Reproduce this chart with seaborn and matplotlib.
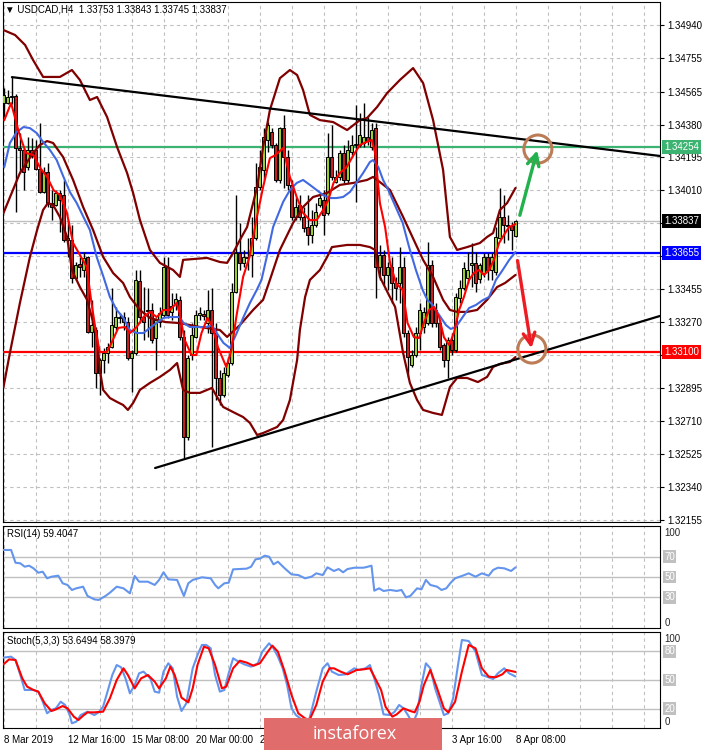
import numpy as np
import pandas as pd
import matplotlib
matplotlib.use("Agg")
import matplotlib.pyplot as plt
import seaborn as sns
from matplotlib.patches import Ellipse, Rectangle

# ---------------- data (USDCAD H4) ----------------
opens = [1.34501, 1.34501, 1.34535, 1.34541, 1.34248, 1.34237, 1.34141, 1.34237, 1.34237, 1.34130,
         1.34000, 1.34113, 1.33938, 1.33927, 1.33995, 1.33983, 1.33730, 1.33730, 1.33516, 1.33595,
         1.33561, 1.33635, 1.33212, 1.33223, 1.32981, 1.33054, 1.33094, 1.33127, 1.33240, 1.33291,
         1.33296, 1.33268, 1.33066, 1.33094, 1.33499, 1.33296, 1.33336, 1.33336, 1.33178, 1.33268,
         1.33308, 1.33578, 1.33325, 1.33370, 1.33393, 1.33184, 1.32621, 1.33082, 1.33184, 1.33308,
         1.33313, 1.33262, 1.33336, 1.33206, 1.32953, 1.32857, 1.32970, 1.33037, 1.33437, 1.33657,
         1.33601, 1.33635, 1.33646, 1.33741, 1.34028, 1.34124, 1.34293, 1.34338, 1.34265, 1.34068,
         1.34360, 1.34197, 1.34040, 1.33860, 1.33927, 1.33860, 1.33803, 1.33758, 1.33815, 1.33927,
         1.33955, 1.33882, 1.34197, 1.34056, 1.34085, 1.34220, 1.34068, 1.34225, 1.34265, 1.34265,
         1.34276, 1.34310, 1.34253, 1.34360, 1.33578, 1.33646, 1.33533, 1.33578, 1.33488, 1.33488,
         1.33578, 1.33206, 1.33026, 1.33082, 1.33206, 1.33240, 1.33262, 1.33589, 1.33336, 1.33262,
         1.33139, 1.33054, 1.33167, 1.33111, 1.33404, 1.33460, 1.33516, 1.33589, 1.33601, 1.33511,
         1.33544, 1.33635, 1.33561, 1.33550, 1.33741, 1.33860, 1.33815, 1.33809, 1.33753]
highs = [1.34586, 1.34574, 1.34648, 1.34552, 1.34333, 1.34248, 1.34310, 1.34304, 1.34293, 1.34389,
         1.34141, 1.34163, 1.34012, 1.34012, 1.34012, 1.34068, 1.33843, 1.33815, 1.33606, 1.33635,
         1.33663, 1.33640, 1.33393, 1.33240, 1.33066, 1.33122, 1.33150, 1.33460, 1.33353, 1.33319,
         1.33325, 1.33296, 1.33111, 1.33561, 1.33561, 1.33465, 1.33460, 1.33375, 1.33291, 1.33353,
         1.33635, 1.33635, 1.33432, 1.33432, 1.33415, 1.33223, 1.33082, 1.33262, 1.33336, 1.33353,
         1.33336, 1.33449, 1.33460, 1.33262, 1.32998, 1.33015, 1.33071, 1.33488, 1.33983, 1.33826,
         1.33674, 1.33741, 1.33860, 1.34163, 1.34237, 1.34360, 1.34394, 1.34360, 1.34276, 1.34366,
         1.34434, 1.34237, 1.34068, 1.33972, 1.33983, 1.33916, 1.33983, 1.33899, 1.33938, 1.33983,
         1.34012, 1.34333, 1.34377, 1.34124, 1.34237, 1.34265, 1.34293, 1.34321, 1.34490, 1.34445,
         1.34501, 1.34422, 1.34389, 1.34389, 1.33702, 1.33674, 1.33606, 1.33635, 1.33522, 1.33690,
         1.33635, 1.33223, 1.33111, 1.33240, 1.33375, 1.33353, 1.33718, 1.33618, 1.33375, 1.33279,
         1.33150, 1.33184, 1.33206, 1.33432, 1.33505, 1.33606, 1.33663, 1.33713, 1.33663, 1.33601,
         1.33657, 1.33657, 1.33657, 1.33803, 1.34023, 1.33983, 1.33871, 1.33832, 1.33843]
lows = [1.34422, 1.34496, 1.34496, 1.33888, 1.34107, 1.34012, 1.34124, 1.34191, 1.34124, 1.33995,
        1.33995, 1.33916, 1.33843, 1.33921, 1.33775, 1.33718, 1.33635, 1.33488, 1.33505, 1.33522,
        1.33522, 1.33206, 1.33127, 1.32897, 1.32857, 1.32981, 1.33037, 1.33122, 1.33223, 1.33262,
        1.33223, 1.33054, 1.32874, 1.33082, 1.33262, 1.33167, 1.33184, 1.33150, 1.32998, 1.33240,
        1.33296, 1.33291, 1.33279, 1.33336, 1.33167, 1.32503, 1.32604, 1.33054, 1.33178, 1.33279,
        1.33279, 1.33206, 1.32564, 1.32829, 1.32801, 1.32846, 1.32959, 1.33026, 1.33432, 1.33561,
        1.33578, 1.33561, 1.33522, 1.33730, 1.34012, 1.34068, 1.34225, 1.34248, 1.34056, 1.34051,
        1.34023, 1.34012, 1.33843, 1.33843, 1.33843, 1.33775, 1.33702, 1.33713, 1.33803, 1.33916,
        1.33758, 1.33871, 1.34068, 1.34051, 1.34068, 1.34051, 1.34051, 1.34208, 1.33944, 1.34253,
        1.34253, 1.34265, 1.34237, 1.33404, 1.33505, 1.33477, 1.33449, 1.33375, 1.33393, 1.33375,
        1.33184, 1.32959, 1.33015, 1.33071, 1.33111, 1.33206, 1.33251, 1.33240, 1.33240, 1.33111,
        1.33015, 1.32953, 1.33082, 1.33099, 1.33375, 1.33449, 1.33488, 1.33465, 1.33437, 1.33488,
        1.33522, 1.33505, 1.33505, 1.33533, 1.33730, 1.33713, 1.33730, 1.33674, 1.33745]
closes = [1.34546, 1.34535, 1.34541, 1.34248, 1.34237, 1.34113, 1.34237, 1.34203, 1.34130, 1.34000,
          1.34113, 1.33938, 1.33916, 1.33995, 1.33955, 1.33730, 1.33741, 1.33516, 1.33589, 1.33578,
          1.33629, 1.33212, 1.33251, 1.32981, 1.33054, 1.33094, 1.33127, 1.33251, 1.33296, 1.33296,
          1.33268, 1.33066, 1.33094, 1.33505, 1.33296, 1.33268, 1.33330, 1.33167, 1.33279, 1.33319,
          1.33578, 1.33308, 1.33359, 1.33398, 1.33184, 1.32621, 1.33066, 1.33195, 1.33308, 1.33319,
          1.33302, 1.33336, 1.33206, 1.32953, 1.32857, 1.32981, 1.33037, 1.33437, 1.33657, 1.33601,
          1.33635, 1.33629, 1.33741, 1.34028, 1.34141, 1.34310, 1.34377, 1.34265, 1.34068, 1.34360,
          1.34197, 1.34040, 1.33860, 1.33916, 1.33860, 1.33797, 1.33758, 1.33815, 1.33888, 1.33966,
          1.33871, 1.34197, 1.34085, 1.34085, 1.34220, 1.34068, 1.34237, 1.34265, 1.34270, 1.34321,
          1.34310, 1.34287, 1.34349, 1.33578, 1.33646, 1.33533, 1.33578, 1.33488, 1.33460, 1.33578,
          1.33206, 1.33071, 1.33082, 1.33206, 1.33336, 1.33325, 1.33589, 1.33262, 1.33262, 1.33127,
          1.33054, 1.33167, 1.33111, 1.33409, 1.33460, 1.33573, 1.33561, 1.33601, 1.33488, 1.33589,
          1.33635, 1.33561, 1.33635, 1.33747, 1.33860, 1.33815, 1.33809, 1.33786, 1.33837]

# Bollinger bands (upper / middle / lower)
bb_up_x = [0, 2.9, 5.4, 7.4, 9.9, 14.1, 17.1, 19.1, 21.6, 23.4, 25.9, 28.4, 30.9, 32.4, 34.1, 36.6, 39.1,
           42.4, 44.1, 44.9, 50.9, 54.1, 55.9, 57.4, 59.1, 60.9, 63.4, 64.9, 66.6, 69.1, 71.6, 73.4, 74.9,
           76.6, 79.1, 82.4, 85.9, 89.1, 90.9, 93.4, 95.9, 99.1, 102.4, 104.9, 107.4, 109.9, 111.6, 113.4,
           115.9, 119.1, 120.9, 122.4, 124.1, 125.9, 128]
bb_up_y = [1.34912, 1.34884, 1.34828, 1.34743, 1.34648, 1.34648, 1.34687, 1.34631, 1.34518, 1.34535,
           1.34422, 1.34253, 1.34107, 1.33995, 1.33843, 1.33674, 1.33601, 1.33561, 1.33522, 1.33618,
           1.33629, 1.33606, 1.33601, 1.33657, 1.33730, 1.33803, 1.34028, 1.34253, 1.34462, 1.34641,
           1.34687, 1.34659, 1.34574, 1.34434, 1.34405, 1.34394, 1.34349, 1.34405, 1.34417, 1.34479,
           1.34557, 1.34631, 1.34698, 1.34614, 1.34405, 1.34124, 1.33747, 1.33674, 1.33690, 1.33713,
           1.33747, 1.33769, 1.33899, 1.33938, 1.34023]
bb_mid_x = [0, 4.1, 7.4, 9.1, 10.9, 12.4, 14.9, 17.4, 19.9, 22.4, 24.9, 27.4, 29.9, 31.6, 34.1, 36.6,
            40.4, 44.1, 49.1, 54.1, 55.9, 59.1, 62.4, 64.9, 66.6, 69.1, 72.4, 74.9, 77.4, 80.9, 84.1,
            87.4, 90.9, 92.4, 94.1, 96.6, 99.9, 103.4, 104.9, 107.4, 109.9, 111.6, 113.4, 115.9, 118.4,
            120.9, 123.4, 125.4, 128]
bb_mid_y = [1.33882, 1.34107, 1.34220, 1.34265, 1.34287, 1.34276, 1.34197, 1.34068, 1.33916, 1.33786,
            1.33635, 1.33544, 1.33488, 1.33409, 1.33336, 1.33291, 1.33268, 1.33262, 1.33240, 1.33223,
            1.33184, 1.33251, 1.33336, 1.33393, 1.33505, 1.33674, 1.33826, 1.33916, 1.33972, 1.33995,
            1.34040, 1.34051, 1.34068, 1.34085, 1.34056, 1.34012, 1.33860, 1.33690, 1.33618, 1.33522,
            1.33393, 1.33336, 1.33325, 1.33325, 1.33336, 1.33393, 1.33465, 1.33488, 1.33533]
bb_low_x = [0, 1.6, 4.1, 6.6, 8.4, 9.9, 11.1, 12.4, 14.1, 15.9, 17.1, 19.1, 20.9, 23.4, 24.1, 24.9, 26.6,
            28.4, 29.9, 31.1, 32.4, 34.1, 36.6, 39.1, 41.6, 43.4, 44.9, 46.6, 49.1, 52.1, 53.4, 54.9,
            57.4, 59.9, 61.6, 63.4, 64.9, 68.4, 69.9, 71.6, 73.4, 74.1, 75.4, 76.6, 79.1, 80.9, 82.1,
            85.9, 89.1, 91.6, 92.9, 94.1, 96.6, 97.9, 99.9, 101.6, 103.4, 104.9, 107.4, 109.6, 111.6,
            113.4, 115.9, 118.6, 120.9, 122.4, 124.1, 126.6, 128]
bb_low_y = [1.32902, 1.33094, 1.33375, 1.33634, 1.33786, 1.33899, 1.33938, 1.33927, 1.33859, 1.33747,
            1.33561, 1.33465, 1.33393, 1.33184, 1.32998, 1.32886, 1.32840, 1.32818, 1.32801, 1.32773,
            1.32812, 1.32886, 1.32925, 1.32959, 1.32998, 1.33037, 1.32886, 1.32869, 1.32869, 1.32897,
            1.32846, 1.32790, 1.32761, 1.32733, 1.32700, 1.32632, 1.32643, 1.32677, 1.32716, 1.32829,
            1.33054, 1.33223, 1.33409, 1.33505, 1.33561, 1.33634, 1.33690, 1.33702, 1.33702, 1.33690,
            1.33674, 1.33522, 1.33409, 1.33353, 1.33094, 1.32925, 1.32829, 1.32773, 1.32756, 1.32745,
            1.32902, 1.32953, 1.32953, 1.32930, 1.32959, 1.33015, 1.33032, 1.33043, 1.33071]

# fast (red) and slow (blue) moving averages
ma_fast_x = [0.2, 1.9, 3.9, 5.6, 7.5, 9.2, 10.9, 12.5, 14.1, 15.8, 17.4, 19.1, 20.8, 22, 23.3, 24.1, 25.8,
             27, 28.7, 30.4, 31.6, 33.3, 35, 36.6, 38.3, 40, 41.6, 43.3, 44, 45.3, 47, 48.2, 49.5, 51,
             52.3, 53.6, 55.7, 57, 58.2, 59.9, 61.5, 63.2, 64.9, 66.6, 68, 69.9, 71.6, 73.3, 74.9, 76.6,
             78.3, 79.9, 81.2, 82.5, 84.1, 85.8, 87.5, 89.1, 90.8, 92.1, 92.9, 94.1, 95.4, 96.6, 98.1,
             99.8, 101, 102.6, 103.9, 105.1, 106.4, 107.6, 108.9, 110.1, 111.4, 112.6, 113.9, 115.1,
             116.4, 117.6, 118.9, 120.1, 121.4, 122.6, 123.9, 125.1, 126.4, 127.6, 128]
ma_fast_y = [1.34405, 1.34501, 1.34332, 1.34220, 1.34208, 1.34135, 1.34085, 1.34011, 1.33983, 1.33887,
             1.33713, 1.33646, 1.33578, 1.33375, 1.33183, 1.33099, 1.33099, 1.33150, 1.33235, 1.33240,
             1.33206, 1.33240, 1.33296, 1.33325, 1.33296, 1.33336, 1.33336, 1.33375, 1.33319, 1.33167,
             1.33082, 1.33082, 1.33206, 1.33291, 1.33240, 1.33127, 1.33015, 1.33111, 1.33296, 1.33522,
             1.33634, 1.33842, 1.34028, 1.34191, 1.34208, 1.34248, 1.34085, 1.33972, 1.33882, 1.33842,
             1.33842, 1.33899, 1.33955, 1.34051, 1.34107, 1.34141, 1.34208, 1.34265, 1.34282, 1.34293,
             1.34220, 1.33938, 1.33803, 1.33606, 1.33488, 1.33448, 1.33263, 1.33183, 1.33178, 1.33263,
             1.33336, 1.33353, 1.33296, 1.33183, 1.33139, 1.33206, 1.33336, 1.33409, 1.33505, 1.33544,
             1.33561, 1.33533, 1.33561, 1.33617, 1.33713, 1.33758, 1.33803, 1.33815, 1.33820]
ma_slow_x = [0.2, 1.6, 3.3, 5, 6.6, 8.3, 9.9, 11.6, 13.3, 15, 16.6, 18.3, 20, 21.6, 23.3, 25, 26.6, 28.3,
             30, 31.6, 33.3, 35, 36.6, 38.3, 40, 41.6, 44, 45, 46.6, 48.3, 50.8, 52.1, 53.3, 55, 56.6,
             58.3, 60, 61.6, 63.3, 64.5, 65.8, 67.4, 69.1, 69.9, 71.6, 73.3, 74.9, 76.6, 78.3, 79.9,
             81.6, 83.2, 84.9, 86.6, 88.2, 89.9, 91.6, 92.4, 93.7, 94.9, 96.2, 97.5, 99.8, 101.4, 103.1,
             104.8, 106, 107.3, 108.9, 110.6, 111.8, 113.1, 114.8, 116.4, 118.1, 119.8, 121.4, 123.1,
             124.8, 126.4, 128]
ma_slow_y = [1.34141, 1.34276, 1.34338, 1.34366, 1.34360, 1.34332, 1.34282, 1.34237, 1.34180, 1.34085,
             1.34000, 1.33938, 1.33859, 1.33786, 1.33634, 1.33522, 1.33409, 1.33336, 1.33291, 1.33222,
             1.33206, 1.33206, 1.33235, 1.33263, 1.33291, 1.33296, 1.33296, 1.33263, 1.33240, 1.33240,
             1.33240, 1.33251, 1.33206, 1.33150, 1.33122, 1.33206, 1.33296, 1.33375, 1.33448, 1.33505,
             1.33634, 1.33803, 1.33899, 1.33944, 1.34011, 1.34051, 1.34068, 1.34040, 1.34011, 1.33983,
             1.33966, 1.33966, 1.33972, 1.34000, 1.34051, 1.34107, 1.34169, 1.34180, 1.34141, 1.34068,
             1.34011, 1.33944, 1.33826, 1.33690, 1.33561, 1.33448, 1.33391, 1.33364, 1.33308, 1.33251,
             1.33229, 1.33240, 1.33296, 1.33347, 1.33364, 1.33391, 1.33409, 1.33505, 1.33561, 1.33617,
             1.33662]

# RSI(14)
rsi_x = [0, 1.9, 3.0, 4.2, 5.3, 6.4, 7.5, 8.7, 9.8, 10.9, 12.0, 13.7, 14.8, 16.0, 17.1, 18.2, 19.9, 21.0,
         22.7, 23.8, 25.5, 26.6, 28.3, 30.0, 31.6, 32.8, 33.9, 36.1, 37.8, 38.9, 40.0, 41.2, 43.4, 45.1,
         46.2, 47.3, 49.6, 51.8, 52.9, 53.7, 55.2, 56.3, 57.4, 60.8, 61.9, 63.0, 64.1, 65.3, 66.4, 67.5,
         68.6, 70.3, 72.0, 73.7, 75.4, 77.0, 78.2, 79.8, 81.0, 82.6, 83.8, 84.9, 86.0, 87.7, 90.0, 91.1,
         92.0, 92.7, 93.9, 95.0, 96.7, 98.3, 99.5, 100.6, 101.7, 103.4, 104.5, 105.6, 106.7, 108.4,
         109.5, 110.7, 111.8, 112.9, 114.6, 116.3, 118.0, 119.6, 121.3, 122.4, 123.6, 125.2, 126.9, 128]
rsi_v = [76.5, 76.5, 64.0, 63.4, 60.1, 61.1, 58.5, 54.2, 55.2, 48.7, 50.3, 51.3, 43.8, 42.2, 37.3, 38.9,
         40.5, 31.4, 28.1, 27.5, 31.4, 34.6, 40.5, 38.9, 34.0, 51.0, 45.4, 45.4, 42.2, 47.1, 54.6, 47.7,
         47.1, 31.4, 43.8, 47.1, 49.7, 48.7, 42.2, 38.9, 43.8, 44.4, 57.5, 58.2, 60.1, 67.3, 68.0, 70.9,
         69.9, 62.4, 65.0, 58.5, 52.6, 51.9, 48.7, 50.3, 53.6, 51.9, 59.5, 55.9, 57.8, 54.6, 57.8, 59.1,
         59.1, 60.1, 61.1, 36.6, 38.9, 36.3, 37.3, 36.3, 37.3, 30.1, 31.4, 38.9, 37.9, 47.1, 42.2, 40.5,
         37.3, 38.9, 44.4, 48.7, 51.0, 53.6, 50.3, 53.6, 51.3, 56.9, 59.1, 58.5, 55.9, 59.4]

# Stochastic(5,3,3): %K (blue) and %D (red)
stk_x = [0, 1.9, 3.0, 4.2, 5.3, 7.5, 8.7, 9.8, 10.9, 12.0, 13.1, 14.3, 15.4, 16.5, 17.1, 18.2, 19.3, 21.0,
         22.7, 23.8, 24.9, 26.0, 27.2, 28.3, 29.4, 30.5, 31.6, 32.8, 33.9, 35.0, 36.7, 37.8, 38.9, 40.0,
         41.2, 42.3, 43.4, 44.5, 45.7, 47.3, 48.5, 49.6, 50.7, 51.8, 52.9, 54.1, 55.2, 56.3, 57.4, 58.5,
         60.2, 61.9, 63.6, 64.7, 66.4, 67.5, 68.6, 69.8, 70.9, 72.0, 73.1, 74.2, 75.4, 76.5, 78.2, 79.8,
         81.0, 82.1, 83.8, 85.5, 87.7, 88.8, 90.5, 91.6, 92.7, 93.9, 95.0, 96.7, 97.8, 98.9, 100.0,
         101.1, 102.3, 103.4, 104.5, 105.6, 106.7, 107.9, 109.0, 110.1, 111.2, 112.4, 113.5, 114.6,
         116.3, 118.0, 119.6, 120.8, 122.4, 123.6, 125.2, 126.4, 128]
stk_v = [73.3, 74.3, 70.8, 55.2, 39.6, 39.6, 37.9, 27.4, 15.3, 18.8, 20.5, 27.4, 24.0, 14.2, 4.9, 6.6,
         13.5, 17.0, 13.5, 16.3, 22.2, 37.9, 55.2, 65.6, 63.2, 51.7, 36.1, 44.8, 57.0, 58.7, 51.7, 37.9,
         36.8, 58.7, 67.4, 62.2, 32.6, 17.7, 25.7, 62.2, 76.0, 86.5, 86.5, 83.0, 55.2, 37.9, 39.6, 57.0,
         72.6, 69.8, 66.3, 63.9, 67.4, 79.5, 88.2, 83.0, 74.3, 62.2, 44.8, 20.5, 13.5, 10.0, 6.6, 10.0,
         37.9, 62.2, 67.4, 58.7, 55.2, 55.9, 62.2, 60.4, 62.2, 65.6, 51.7, 34.4, 14.2, 13.5, 17.0, 24.0,
         20.5, 13.5, 4.9, 15.3, 44.8, 67.4, 62.2, 41.3, 27.4, 13.5, 15.3, 30.9, 62.2, 91.7, 90.6, 79.5,
         55.2, 53.5, 51.0, 57.0, 62.2, 57.0, 53.6]
std_x = [0, 1.4, 3.0, 4.7, 5.9, 7.5, 8.7, 10.3, 12.0, 13.1, 14.8, 16.0, 17.6, 18.7, 19.9, 21.0, 22.7, 24.9,
         26.6, 28.3, 30.0, 31.1, 32.8, 34.4, 36.1, 37.8, 38.9, 40.6, 41.7, 42.8, 44.5, 46.2, 47.3, 48.5,
         50.1, 51.3, 52.9, 54.6, 55.7, 57.4, 59.1, 60.8, 62.5, 64.1, 65.8, 67.2, 68.6, 70.3, 72.0, 73.7,
         75.4, 76.5, 78.2, 79.8, 81.5, 82.6, 84.3, 86.0, 88.3, 90.0, 91.6, 92.7, 94.4, 95.5, 97.2, 98.3,
         100.0, 101.7, 102.8, 104.0, 105.1, 106.7, 108.4, 110.1, 111.2, 112.9, 114.6, 116.3, 118.0,
         119.6, 121.3, 123.0, 124.7, 125.8, 128]
std_v = [66.3, 71.5, 70.8, 51.7, 43.1, 39.6, 37.9, 25.7, 17.7, 19.4, 22.9, 20.5, 11.8, 8.3, 12.8, 16.3,
         16.3, 17.0, 30.9, 50.0, 62.2, 55.2, 41.3, 51.7, 55.2, 48.3, 41.3, 51.7, 63.9, 55.2, 31.6, 26.7,
         41.3, 65.6, 84.7, 83.0, 65.6, 41.3, 43.1, 62.2, 70.1, 68.1, 64.9, 67.4, 77.8, 85.8, 79.5, 58.7,
         34.4, 15.3, 10.0, 8.3, 24.0, 48.3, 62.2, 62.2, 58.7, 55.9, 60.4, 61.1, 62.2, 53.5, 39.6, 22.2,
         11.8, 14.2, 20.5, 17.7, 16.3, 27.4, 44.8, 60.4, 41.3, 20.5, 16.3, 27.4, 58.7, 86.5, 83.0, 62.2,
         53.5, 52.8, 55.9, 60.4, 58.4]

# hand-drawn objects
trend_up_x = [2.1, 164.1]
trend_up_y = [1.34647, 1.34203]
trend_dn_x = [37.9, 164.1]
trend_dn_y = [1.32446, 1.33302]
level_prices = [1.34254, 1.33655, 1.33100]
level_colors = ['#3CB371', '#0000FF', '#FF0000']
bid_price = 1.33837
circle_x = [133.6, 132.1]
circle_y = [1.34242, 1.33116]
arrow_up = [(128.9, 1.33854), (133.6, 1.34250)]
arrow_dn = [(128.4, 1.33629), (132.1, 1.33105)]

price_ticks = [1.34940, 1.34755, 1.34565, 1.34380, 1.34195, 1.34010, 1.33825, 1.33640, 1.33455,
               1.33270, 1.33085, 1.32895, 1.32710, 1.32525, 1.32340, 1.32155]
# tick labels that sit under the coloured price boxes are not visible in the chart
hidden_price_ticks = [1.33825, 1.33640, 1.33085]
date_ticks = [0, 16, 32, 48, 64, 80, 96, 112, 128]
date_labels = ['8 Mar 2019', '12 Mar 16:00', '15 Mar 08:00', '20 Mar 00:00', '22 Mar 16:00',
               '', '', '3 Apr 16:00', '8 Apr 08:00']

# ---------------- drawing ----------------
sns.set_theme(style="white")
plt.rcParams['font.family'] = ['Liberation Sans', 'DejaVu Sans']

W, H = 704, 750
fig = plt.figure(figsize=(W / 100, H / 100), dpi=100)
fig.patch.set_facecolor('white')


def frac(x0, y0, x1, y1):
    return [x0 / W, 1 - y1 / H, (x1 - x0) / W, (y1 - y0) / H]


ax = fig.add_axes(frac(3, 2, 660, 522))
ax_r = fig.add_axes(frac(3, 526, 660, 628))
ax_s = fig.add_axes(frac(3, 632, 660, 728))

GRID = '#c0c0c0'
DASH = (0, (3, 3))
for a in (ax, ax_r, ax_s):
    a.set_xlim(-0.125, 164.125)
    a.set_facecolor('white')
    for s in a.spines.values():
        s.set_color('black')
        s.set_linewidth(0.8)
    a.set_xticks(date_ticks)
    a.set_xticks(np.arange(8, 164, 8), minor=True)
    a.grid(True, axis='x', which='both', color=GRID, linestyle=DASH, linewidth=0.8)
    a.tick_params(axis='x', which='both', length=0, labelbottom=False)
    a.set_axisbelow(True)


def sline(a, xs, ys, color, lw, z=3):
    sns.lineplot(x=xs, y=ys, ax=a, color=color, linewidth=lw, legend=False,
                 sort=False, estimator=None, errorbar=None, zorder=z)
    a.set_xlabel('')
    a.set_ylabel('')


# ---- main panel ----
ax.set_ylim(1.32142, 1.35070)
ax.yaxis.tick_right()
ax.set_yticks(price_ticks)
ax.set_yticklabels(['' if v in hidden_price_ticks else f"{v:.5f}" for v in price_ticks])
ax.tick_params(axis='y', direction='out', length=3, width=0.8, pad=2, labelsize=7, colors='black')
ax.grid(True, axis='y', color=GRID, linestyle=DASH, linewidth=0.8)

df = pd.DataFrame(dict(bar=np.arange(len(closes)), o=opens, h=highs, l=lows, c=closes))
bull = df.c >= df.o
ax.vlines(df.bar, df.l, df.h, color='black', linewidth=1, zorder=4)
ax.bar(df.bar[bull], (df.c - df.o)[bull], bottom=df.o[bull], width=0.62,
       color='#9ACD32', edgecolor='black', linewidth=0.7, zorder=5)
ax.bar(df.bar[~bull], (df.o - df.c)[~bull], bottom=df.c[~bull], width=0.62,
       color='#C81E1E', edgecolor='black', linewidth=0.7, zorder=5)

ax.axhline(bid_price, color=GRID, linewidth=1, zorder=2)
for p, col in zip(level_prices, level_colors):
    ax.axhline(p, color=col, linewidth=1.6, zorder=3)

for xs, ys in ((bb_up_x, bb_up_y), (bb_mid_x, bb_mid_y), (bb_low_x, bb_low_y)):
    sline(ax, xs, ys, '#800000', 1.6, z=6)
sline(ax, ma_slow_x, ma_slow_y, '#4169E1', 1.5, z=7)
sline(ax, ma_fast_x, ma_fast_y, '#FF0000', 1.5, z=7)
sline(ax, trend_up_x, trend_up_y, 'black', 1.6, z=8)
sline(ax, trend_dn_x, trend_dn_y, 'black', 1.6, z=8)

for cx, cy in zip(circle_x, circle_y):
    ax.add_patch(Ellipse((cx, cy), width=7.0, height=0.00158, fill=False,
                         edgecolor='#BC7C56', linewidth=2.2, zorder=9))
ax.annotate('', xy=arrow_up[1], xytext=arrow_up[0],
            arrowprops=dict(arrowstyle='->,head_length=0.7,head_width=0.35',
                            color='#22B14C', lw=2.4), zorder=10)
ax.annotate('', xy=arrow_dn[1], xytext=arrow_dn[0],
            arrowprops=dict(arrowstyle='->,head_length=0.7,head_width=0.35',
                            color='#ED1C24', lw=2.4), zorder=10)

label_boxes = [(level_prices[0], level_colors[0]), (bid_price, 'black'),
               (level_prices[1], level_colors[1]), (level_prices[2], level_colors[2])]
for p, col in label_boxes:
    ax.text(1.0065, p, f"{p:.5f}", transform=ax.get_yaxis_transform(), ha='left', va='center',
            fontsize=7, color='white', clip_on=False, zorder=20,
            bbox=dict(boxstyle='square,pad=0.22', fc=col, ec='none'))

ax.text(0.003, 0.985, '\u25BC USDCAD,H4  1.33753 1.33843 1.33745 1.33837',
        transform=ax.transAxes, ha='left', va='center', fontsize=7, color='black', zorder=20)

# ---- RSI panel ----
ax_r.set_ylim(0, 100)
ax_r.set_yticks([])
for lv in (30, 50, 70):
    ax_r.axhline(lv, color=GRID, linewidth=1, zorder=1)
sline(ax_r, rsi_x, rsi_v, '#6495ED', 1.5)
ax_r.text(0.006, 0.92, 'RSI(14) 59.4047', transform=ax_r.transAxes, ha='left', va='center',
          fontsize=7, color='black')
ax_r.text(1.0065, 0.931, '100', transform=ax_r.transAxes, ha='left', va='center', fontsize=7,
          clip_on=False)
ax_r.text(1.0065, 0.049, '0', transform=ax_r.transAxes, ha='left', va='center', fontsize=7,
          clip_on=False)
for lv in (70, 50, 30):
    ax_r.text(1.0065, lv, str(lv), transform=ax_r.get_yaxis_transform(), ha='left', va='center',
              fontsize=7, color='white', clip_on=False,
              bbox=dict(boxstyle='square,pad=0.15', fc='#c0c0c0', ec='none'))

# ---- Stochastic panel ----
ax_s.set_ylim(0, 100)
ax_s.set_yticks([])
for lv in (20, 50, 80):
    ax_s.axhline(lv, color=GRID, linewidth=1, zorder=1)
sline(ax_s, stk_x, stk_v, '#6495ED', 1.5)
sline(ax_s, std_x, std_v, '#FF0000', 1.5)
ax_s.text(0.006, 0.91, 'Stoch(5,3,3) 53.6494 58.3979', transform=ax_s.transAxes, ha='left',
          va='center', fontsize=7, color='black')
ax_s.text(1.0065, 0.927, '100', transform=ax_s.transAxes, ha='left', va='center', fontsize=7,
          clip_on=False)
ax_s.text(1.0065, 0.0625, '0', transform=ax_s.transAxes, ha='left', va='center', fontsize=7,
          clip_on=False)
for lv in (80, 50, 20):
    ax_s.text(1.0065, lv, str(lv), transform=ax_s.get_yaxis_transform(), ha='left', va='center',
              fontsize=7, color='white', clip_on=False,
              bbox=dict(boxstyle='square,pad=0.15', fc='#c0c0c0', ec='none'))

ax_s.set_xticklabels(date_labels)
ax_s.tick_params(axis='x', which='major', length=3, width=0.8, direction='out', pad=2,
                 labelbottom=True, labelsize=7, colors='black')
for lbl in ax_s.get_xticklabels():
    lbl.set_ha('left')

# ---- watermark ----
fig.add_artist(Rectangle((264 / W, 1 - 750 / H), 178 / W, 32 / H, transform=fig.transFigure,
                         facecolor='#E06C6C', edgecolor='none', zorder=30))
fig.text(355 / W, 1 - 734 / H, 'instaforex', color='white', fontsize=13, ha='center', va='center',
         family=['Open Sans', 'DejaVu Sans'], zorder=31)

fig.savefig('out.png', dpi=100, facecolor='white')
